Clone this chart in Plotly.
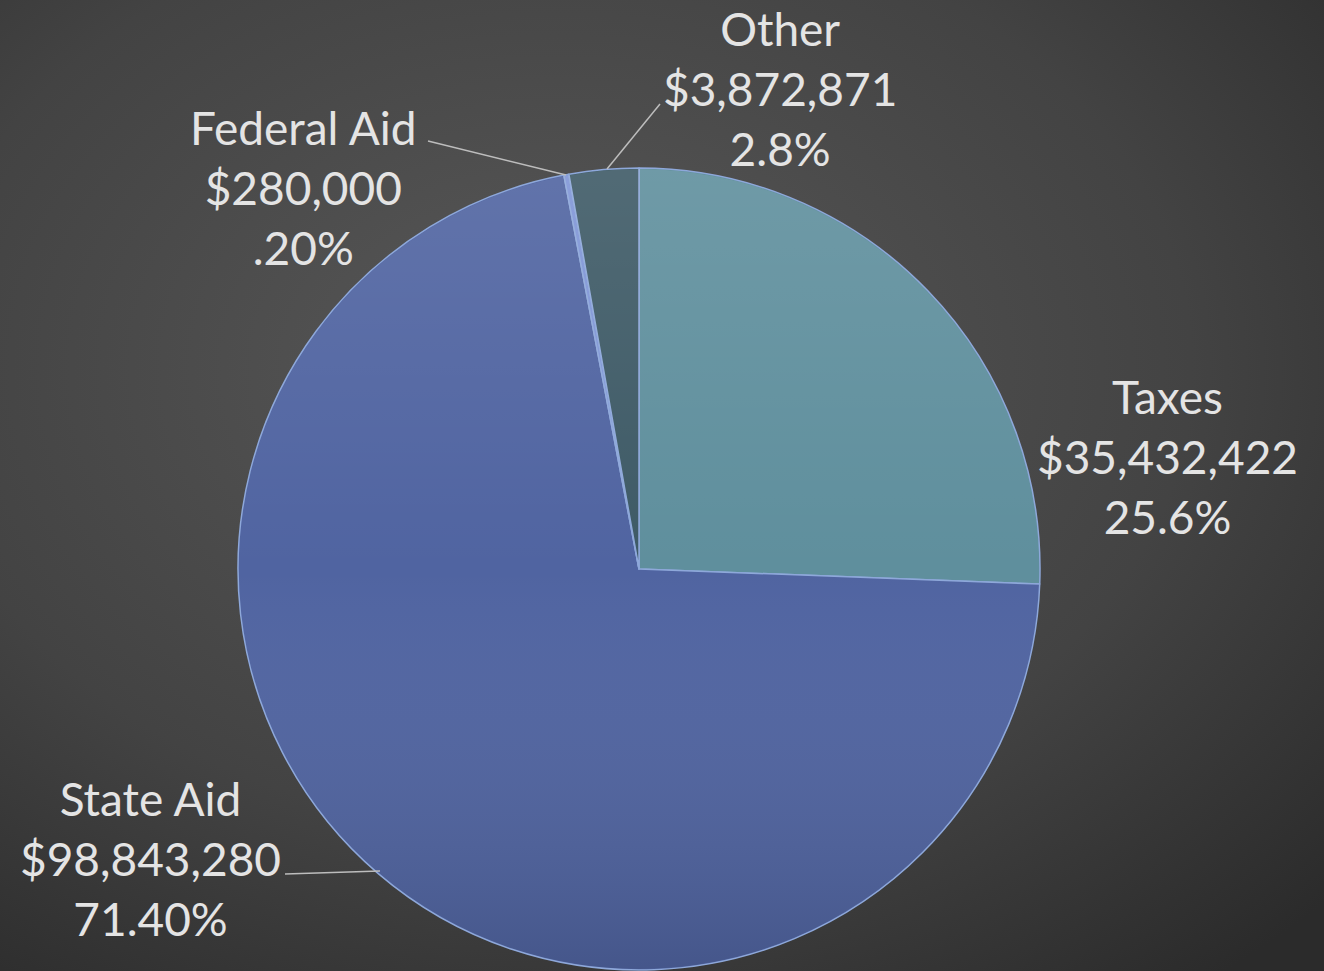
import base64
import plotly.graph_objects as go

# ---- data ----
categories = ["Taxes", "State Aid", "Federal Aid", "Other"]
values = [35432422, 98843280, 280000, 3872871]
value_labels = ["$35,432,422", "$98,843,280", "$280,000", "$3,872,871"]
pct_labels = ["25.6%", "71.40%", ".20%", "2.8%"]

# ---- style ----
W, H = 1324, 971
slice_colors = ["#5f8f9d", "#5064a1", "#7f95d6", "#3e5a66"]
text_color = "#e4e4e4"
font_family = "Lato, 'Open Sans', sans-serif"
font_size = 46

def px(x):
    return x / W

def py(y):
    return 1 - y / H

def svg_uri(svg):
    return "data:image/svg+xml;base64," + base64.b64encode(svg.encode()).decode()

bg_svg = (
    '<svg xmlns="http://www.w3.org/2000/svg" width="1324" height="971">'
    '<defs><radialGradient id="g" cx="0.42" cy="0.38" r="0.8">'
    '<stop offset="0" stop-color="#585858"/>'
    '<stop offset="0.6" stop-color="#434343"/>'
    '<stop offset="1" stop-color="#2b2b2b"/>'
    '</radialGradient></defs>'
    '<rect width="1324" height="971" fill="url(#g)"/></svg>'
)

# soft vertical shading over the pie (lighter top, darker bottom)
shade_svg = (
    '<svg xmlns="http://www.w3.org/2000/svg" width="802" height="802">'
    '<defs><linearGradient id="s" x1="0" y1="0" x2="0" y2="1">'
    '<stop offset="0" stop-color="#ffffff" stop-opacity="0.10"/>'
    '<stop offset="0.5" stop-color="#ffffff" stop-opacity="0"/>'
    '<stop offset="1" stop-color="#000000" stop-opacity="0.14"/>'
    '</linearGradient></defs>'
    '<circle cx="401" cy="401" r="400" fill="url(#s)"/></svg>'
)

pie_x = [px(238), px(1040)]
pie_y = [py(970), py(168)]

fig = go.Figure(
    go.Pie(
        labels=categories,
        values=values,
        sort=False,
        direction="clockwise",
        rotation=0,
        textinfo="none",
        hoverinfo="label+value+percent",
        marker=dict(colors=slice_colors, line=dict(color="#8ea8da", width=1.5)),
        domain=dict(x=pie_x, y=pie_y),
        showlegend=False,
    )
)

# label positions (pixel centres) and leader lines
label_pos = {
    "Taxes": (1167, 456),
    "State Aid": (150, 858),
    "Federal Aid": (303, 187),
    "Other": (780, 88),
}
annotations = []
for cat, v, p in zip(categories, value_labels, pct_labels):
    x, y = label_pos[cat]
    annotations.append(
        dict(
            x=px(x), y=py(y), xref="paper", yref="paper",
            text=f"{cat}<br>{v}<br>{p}",
            showarrow=False, align="center",
            xanchor="center", yanchor="middle",
            font=dict(family=font_family, size=font_size, color=text_color),
        )
    )

leaders = [
    [(428, 141), (566, 175)],
    [(660, 104), (607, 169)],
    [(285, 874), (380, 871)],
]
shapes = []
for (x0, y0), (x1, y1) in leaders:
    shapes.append(
        dict(type="line", xref="paper", yref="paper",
             x0=px(x0), y0=py(y0), x1=px(x1), y1=py(y1),
             line=dict(color="#bdbdbd", width=1.5))
    )

fig.update_layout(
    width=W, height=H,
    margin=dict(l=0, r=0, t=0, b=0),
    paper_bgcolor="#3e3e3e",
    annotations=annotations,
    shapes=shapes,
    images=[
        dict(source=svg_uri(bg_svg), xref="paper", yref="paper", x=0, y=1,
             sizex=1, sizey=1, sizing="stretch", layer="below"),
        dict(source=svg_uri(shade_svg), xref="paper", yref="paper",
             x=pie_x[0], y=pie_y[1], sizex=pie_x[1] - pie_x[0],
             sizey=pie_y[1] - pie_y[0], sizing="stretch", layer="above"),
    ],
)

fig.write_html(
    "out.html",
    config={"displayModeBar": False},
    post_script="document.body.style.margin='0';document.body.style.background='#3e3e3e';",
)
